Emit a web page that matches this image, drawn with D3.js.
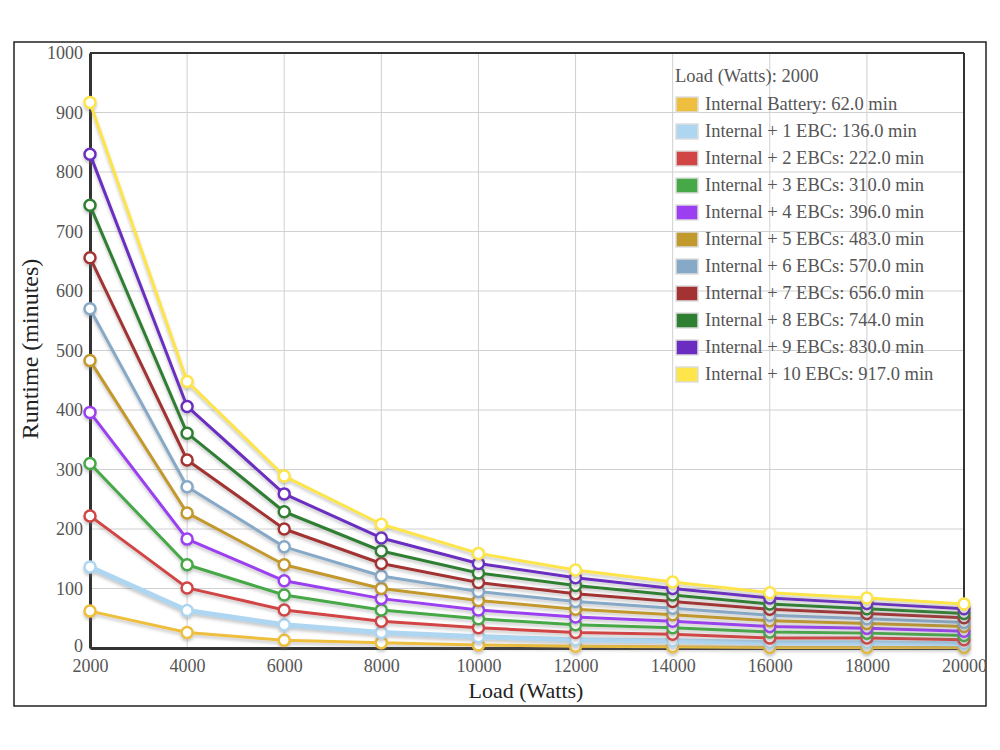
<!DOCTYPE html>
<html>
<head>
<meta charset="utf-8">
<script src="https://cdn.jsdelivr.net/npm/d3@7"></script>
<style>
  html, body { margin: 0; padding: 0; background: #fff; }
  svg { display: block; }
  text { font-family: "Liberation Serif", "Times New Roman", serif; }
</style>
</head>
<body>
<svg id="chart" width="1000" height="750"></svg>
<script>
const loads = [2000, 4000, 6000, 8000, 10000, 12000, 14000, 16000, 18000, 20000];
const seriesNames = [
  "Internal Battery", "Internal + 1 EBC", "Internal + 2 EBCs", "Internal + 3 EBCs",
  "Internal + 4 EBCs", "Internal + 5 EBCs", "Internal + 6 EBCs", "Internal + 7 EBCs",
  "Internal + 8 EBCs", "Internal + 9 EBCs", "Internal + 10 EBCs"
];
const seriesColors = [
  "#eebf3e", "#aed6f1", "#d24545", "#46a846", "#9b3ff0", "#c2992c",
  "#87a9c8", "#a33232", "#2f7f33", "#6b2dc1", "#fde54a"
];
const runtime0  = [62, 26, 13, 9, 5, 3, 2, 1, 1, 1];
const runtime1  = [136, 63, 39, 26, 19, 14, 12, 9, 9, 7];
const runtime2  = [222, 101, 64, 45, 34, 26, 23, 17, 17, 14];
const runtime3  = [310, 140, 89, 64, 49, 39, 34, 27, 25, 21];
const runtime4  = [396, 183, 113, 83, 64, 52, 45, 36, 33, 28];
const runtime5  = [483, 227, 140, 100, 80, 65, 56, 46, 41, 36];
const runtime6  = [570, 271, 170, 121, 95, 78, 67, 55, 49, 43];
const runtime7  = [656, 316, 200, 142, 110, 91, 78, 65, 58, 51];
const runtime8  = [744, 361, 229, 163, 126, 105, 89, 74, 66, 58];
const runtime9  = [830, 406, 259, 185, 142, 118, 100, 84, 75, 66];
const runtime10 = [917, 448, 289, 208, 159, 131, 111, 93, 84, 74];
const allRuntimes = [runtime0, runtime1, runtime2, runtime3, runtime4, runtime5,
                     runtime6, runtime7, runtime8, runtime9, runtime10];
const yTicks = [0, 100, 200, 300, 400, 500, 600, 700, 800, 900, 1000];
const xTicks = loads;
const legendTitle = "Load (Watts): 2000";

const svg = d3.select("#chart");
const plot = {left: 90, right: 964, top: 53, bottom: 648};

// outer frame
svg.append("rect").attr("x", 14).attr("y", 42).attr("width", 972).attr("height", 664)
  .attr("fill", "none").attr("stroke", "#222").attr("stroke-width", 1.5);

const x = d3.scaleLinear().domain([2000, 20000]).range([plot.left, plot.right]);
const y = d3.scaleLinear().domain([0, 1000]).range([plot.bottom, plot.top]);

const defs = svg.append("defs");
const f = defs.append("filter").attr("id", "shadow").attr("x", "-10%").attr("y", "-10%")
  .attr("width", "120%").attr("height", "130%");
f.append("feDropShadow").attr("dx", 0).attr("dy", 2.5).attr("stdDeviation", 1.5)
  .attr("flood-color", "#777").attr("flood-opacity", 0.4);

// grid
const grid = svg.append("g");
grid.selectAll("line.v").data(xTicks).join("line")
  .attr("x1", d => x(d)).attr("x2", d => x(d)).attr("y1", plot.top).attr("y2", plot.bottom)
  .attr("stroke", "#d0d0d0").attr("stroke-width", 1);
grid.selectAll("line.h").data(yTicks).join("line")
  .attr("x1", plot.left).attr("x2", plot.right).attr("y1", d => y(d)).attr("y2", d => y(d))
  .attr("stroke", "#d0d0d0").attr("stroke-width", 1);

// plot frame (top/right)
svg.append("line").attr("x1", plot.left).attr("x2", plot.right).attr("y1", plot.top).attr("y2", plot.top)
  .attr("stroke", "#333").attr("stroke-width", 2);
svg.append("line").attr("x1", plot.right).attr("x2", plot.right).attr("y1", plot.top).attr("y2", plot.bottom)
  .attr("stroke", "#333").attr("stroke-width", 2);

// axes
const yAxis = svg.append("g").attr("transform", `translate(${plot.left},0)`)
  .call(d3.axisLeft(y).tickValues(yTicks).tickSize(0).tickPadding(7).tickFormat(d3.format("d")));
const xAxis = svg.append("g").attr("transform", `translate(0,${plot.bottom})`)
  .call(d3.axisBottom(x).tickValues(xTicks).tickSize(0).tickPadding(11).tickFormat(d3.format("d")));
[yAxis, xAxis].forEach(a => {
  a.select(".domain").attr("stroke", "#333").attr("stroke-width", 3);
  a.selectAll("text").attr("font-size", 18).attr("fill", "#555")
    .attr("font-family", "'Liberation Serif', 'Times New Roman', serif");
});
yAxis.selectAll(".tick").filter(d => d === 0).select("text").attr("dy", "0.2em");

// axis titles
svg.append("text").attr("transform", `translate(38,349) rotate(-90)`)
  .attr("text-anchor", "middle").attr("font-size", 24).attr("fill", "#222").text("Runtime (minutes)");
svg.append("text").attr("x", (plot.left + plot.right) / 2 - 1).attr("y", 698)
  .attr("text-anchor", "middle").attr("font-size", 22).attr("fill", "#222").text("Load (Watts)");

// series
const line = d3.line().x(d => x(d[0])).y(d => y(d[1]));
const seriesG = svg.append("g");
allRuntimes.forEach((vals, i) => {
  const pts = loads.map((l, j) => [l, vals[j]]);
  const g = seriesG.append("g").attr("filter", "url(#shadow)");
  g.append("path").datum(pts).attr("d", line).attr("fill", "none")
    .attr("stroke", seriesColors[i]).attr("stroke-width", i === 1 ? 5 : 3)
    .attr("stroke-linejoin", "round");
  g.selectAll("circle").data(pts).join("circle")
    .attr("cx", d => x(d[0])).attr("cy", d => y(d[1])).attr("r", 5.5)
    .attr("fill", "#fff").attr("stroke", seriesColors[i]).attr("stroke-width", 2.5);
});

// legend
const lg = svg.append("g");
lg.append("text").attr("x", 675).attr("y", 82).attr("font-size", 18.5).attr("fill", "#555").text(legendTitle);
seriesNames.forEach((name, i) => {
  const yy = 97 + i * 27;
  lg.append("rect").attr("x", 676).attr("y", yy).attr("width", 22).attr("height", 15)
    .attr("fill", seriesColors[i]).attr("stroke", "#ddd").attr("stroke-width", 1.5);
  lg.append("text").attr("x", 705).attr("y", yy + 13).attr("font-size", 18.5).attr("fill", "#555")
    .text(`${name}: ${allRuntimes[i][0].toFixed(1)} min`);
});
</script>
</body>
</html>
